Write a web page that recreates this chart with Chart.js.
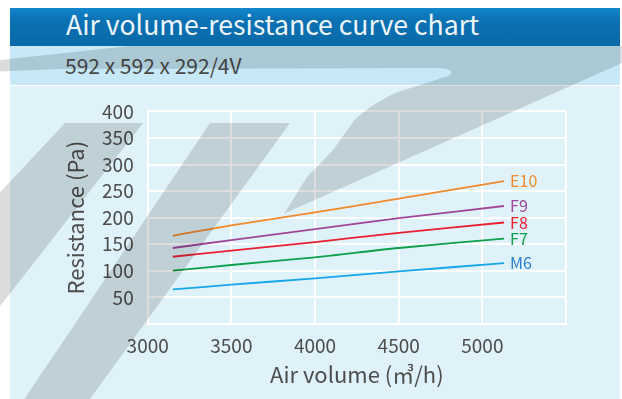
<!DOCTYPE html>
<html>
<head>
<meta charset="utf-8">
<script src="https://cdn.jsdelivr.net/npm/chart.js@4.4.0/dist/chart.umd.min.js"></script>
<style>
  html, body { margin: 0; padding: 0; background: #fff; }
  #wrap {
    position: relative; width: 622px; height: 399px; overflow: hidden;
    font-family: "Noto Sans CJK SC", "Noto Sans", sans-serif;
  }
  #head {
    position: absolute; left: 10px; top: 8px; width: 610px; height: 38px;
    background: linear-gradient(#1486cc, #0b72b4 30%, #0a69a7);
  }
  #head span {
    position: absolute; left: 56px; top: 3.3px; color: #eef6fb;
    font-size: 26.6px; line-height: 1; white-space: nowrap;
  }
  #sub {
    position: absolute; left: 10px; top: 46px; width: 610px; height: 39px;
    background: #c6e8f7;
  }
  #sub span {
    position: absolute; left: 55px; top: 8.5px; color: #4a4a4a;
    font-size: 21px; line-height: 1; white-space: nowrap;
  }
  #panel {
    position: absolute; left: 10px; top: 86px; width: 610px; height: 313px;
    background: #dff2fa;
  }
  #chart { position: absolute; left: 0; top: 0; }
  #mark {
    position: absolute; left: 0; top: 0; width: 622px; height: 399px;
    mix-blend-mode: multiply; pointer-events: none;
  }
</style>
</head>
<body>
<div id="wrap">
  <div id="head"><span>Air volume-resistance curve chart</span></div>
  <div id="sub"><span>592 x 592 x 292/4V</span></div>
  <div id="panel"><canvas id="chart" width="610" height="313"></canvas></div>
  <!-- grey brand swoosh laid over the sheet -->
  <svg id="mark" viewBox="0 0 622 399">
    <g fill="#dcdcdc">
      <path d="M -10 61 L 130 46 L 622 46 L 622 63 L 290 211 L 284 214 L 307 177 L 333 150 L 353 122
               Q 365 108 395 93 Q 430 82 448 76 Q 458 70 440 68 L 60 69 L -10 72 Z"/>
      <path d="M 65 123 L 143 123 L -20 332 L -20 214 Z"/>
      <path d="M 210 123 L 290 123 L 82 410 L 17 410 Z"/>
    </g>
  </svg>
</div>
<script>
var airVolume = [3150, 3500, 4000, 4500, 5130];
var seriesNames = ["E10", "F9", "F8", "F7", "M6"];
var e10 = [166, 185.5, 210, 236, 269];
var f9 = [143, 158, 178.5, 199, 222];
var f8 = [126.5, 138, 154, 171.5, 191];
var f7 = [100.5, 111, 125.5, 143, 160.5];
var m6 = [65, 74, 86, 99, 114.5];
var xTicks = [3000, 3500, 4000, 4500, 5000];
var yTicks = [50, 100, 150, 200, 250, 300, 350, 400];

var lineColors = ["#f18a2c", "#a0479a", "#e8202f", "#0fa04c", "#17a6ea"];
var labelColors = ["#f18a2c", "#a0479a", "#e8202f", "#0fa04c", "#2a7fca"];
var values = [e10, f9, f8, f7, m6];

var fontFamily = '"Noto Sans CJK SC", "Noto Sans", sans-serif';
Chart.defaults.font.family = fontFamily;

var datasets = values.map(function (v, i) {
  return {
    label: seriesNames[i],
    data: v.map(function (y, j) { return { x: airVolume[j], y: y }; }),
    borderColor: lineColors[i],
    borderWidth: 1.8,
    pointRadius: 0,
    tension: 0.3,
    fill: false
  };
});

// name of each filter class written just past the end of its curve
var endLabels = {
  id: "endLabels",
  afterDatasetsDraw: function (chart) {
    var c = chart.ctx;
    c.save();
    c.font = "16px " + fontFamily;
    c.textAlign = "left";
    c.textBaseline = "middle";
    chart.data.datasets.forEach(function (ds, i) {
      var pts = chart.getDatasetMeta(i).data;
      var p = pts[pts.length - 1];
      c.fillStyle = labelColors[i];
      c.fillText(ds.label, p.x + 6, p.y);
    });
    c.restore();
  }
};

var tickColor = "#4d4d4d";

new Chart(document.getElementById("chart"), {
  type: "line",
  data: { datasets: datasets },
  options: {
    responsive: false,
    animation: false,
    devicePixelRatio: 1,
    layout: { padding: { top: 23.6, right: 54, left: 0, bottom: 0 } },
    plugins: { legend: { display: false }, tooltip: { enabled: false } },
    scales: {
      x: {
        type: "linear",
        min: 3000,
        max: 5500,
        afterBuildTicks: function (s) {
          s.ticks = xTicks.concat([5500]).map(function (v) { return { value: v }; });
        },
        ticks: {
          padding: 10,
          color: tickColor,
          font: { size: 19 },
          maxRotation: 0,
          autoSkip: false,
          callback: function (v) { return xTicks.indexOf(v) >= 0 ? String(v) : ""; }
        },
        grid: { color: "#fff", lineWidth: 2, drawTicks: false },
        border: { color: "#fff", width: 2 },
        title: {
          display: true,
          text: "Air volume (㎥/h)",
          color: tickColor,
          font: { size: 22 },
          padding: { top: 0, bottom: 10.8 }
        },
        afterFit: function (s) { s.height = 75; }
      },
      y: {
        min: 0,
        max: 400,
        afterBuildTicks: function (s) {
          s.ticks = [0].concat(yTicks).map(function (v) { return { value: v }; });
        },
        ticks: {
          padding: 14,
          color: tickColor,
          font: { size: 19 },
          autoSkip: false,
          callback: function (v) { return yTicks.indexOf(v) >= 0 ? String(v) : ""; }
        },
        grid: { color: "#fff", lineWidth: 2, drawTicks: false },
        border: { color: "#fff", width: 2 },
        title: {
          display: true,
          text: "Resistance (Pa)",
          color: tickColor,
          font: { size: 22 },
          padding: { top: 52.8, bottom: 0 }
        },
        afterFit: function (s) { s.width = 137.7; }
      }
    }
  },
  plugins: [endLabels]
});
</script>
</body>
</html>
